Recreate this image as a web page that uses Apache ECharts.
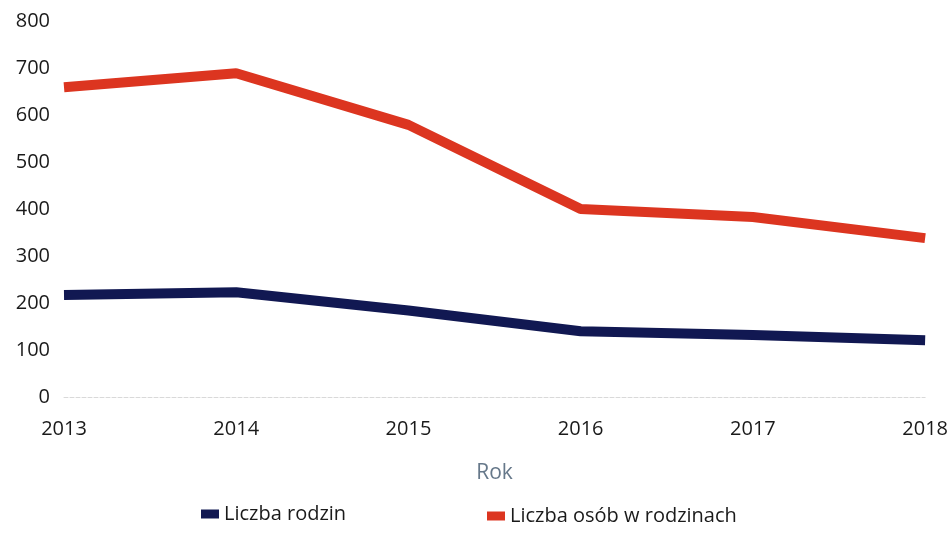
<!DOCTYPE html>
<html style="height: 100%">
<head>
  <meta charset="utf-8">
</head>
<body style="height: 100%; margin: 0; background: #fff">
  <div id="container" style="width: 951px; height: 533px"></div>
  <script src="https://cdn.jsdelivr.net/npm/echarts@6/dist/echarts.min.js"></script>
  <script>
    var years = ['2013', '2014', '2015', '2016', '2017', '2018'];
    var liczbaRodzin = [217, 223, 184, 140, 132, 121];
    var liczbaOsob = [659, 689, 579, 400, 383, 338];
    var seriesNames = ['Liczba rodzin', 'Liczba osób w rodzinach'];

    var myChart = echarts.init(document.getElementById('container'));
    var font = '"Open Sans", "Noto Sans", sans-serif';

    var option = {
      animation: false,
      textStyle: { fontFamily: font },
      grid: { left: 64, right: 25, top: 21, bottom: 136 },
      legend: [
        {
          data: [seriesNames[0]],
          left: 196, top: 499,
          icon: 'rect', itemWidth: 18, itemHeight: 9, itemGap: 8,
          textStyle: { fontSize: 20, color: '#1a1a1a', fontFamily: font }
        },
        {
          data: [seriesNames[1]],
          left: 482, top: 501,
          icon: 'rect', itemWidth: 18, itemHeight: 9,
          textStyle: { fontSize: 20, color: '#1a1a1a', fontFamily: font }
        }
      ],
      xAxis: {
        type: 'category',
        data: years,
        boundaryGap: false,
        name: 'Rok',
        nameLocation: 'middle',
        nameGap: 66,
        nameTextStyle: { fontSize: 21, color: '#66788a', fontFamily: font },
        axisLine: { lineStyle: { color: '#d9d9d9', type: 'dashed', width: 1 } },
        axisTick: { show: false },
        axisLabel: { fontSize: 20, color: '#1a1a1a', margin: 22, fontFamily: font }
      },
      yAxis: {
        type: 'value',
        min: 0, max: 800, interval: 100,
        splitLine: { show: false },
        axisLine: { show: false },
        axisTick: { show: false },
        axisLabel: { fontSize: 20, color: '#1a1a1a', margin: 14, fontFamily: font }
      },
      series: [
        {
          name: seriesNames[0],
          type: 'line',
          data: liczbaRodzin,
          color: '#111852',
          symbol: 'none',
          lineStyle: { width: 10, color: '#111852' }
        },
        {
          name: seriesNames[1],
          type: 'line',
          data: liczbaOsob,
          color: '#dc3520',
          symbol: 'none',
          lineStyle: { width: 10, color: '#dc3520' }
        }
      ]
    };
    myChart.setOption(option);
  </script>
</body>
</html>
